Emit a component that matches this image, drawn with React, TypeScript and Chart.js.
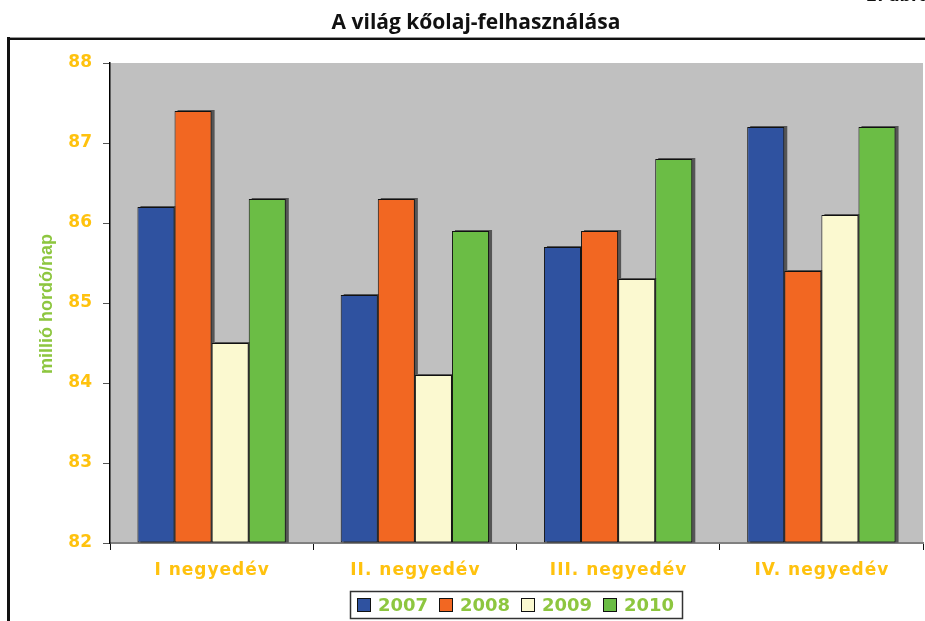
import React, { useEffect, useRef } from 'react';
import { Chart, registerables } from 'chart.js';

Chart.register(...registerables);

const chartTitle = 'A világ kőolaj-felhasználása';
const figureNote = '2. ábra';
const categories = ['I negyedév', 'II. negyedév', 'III. negyedév', 'IV. negyedév'];
const years = ['2007', '2008', '2009', '2010'];
const s2007 = [86.2, 85.1, 85.7, 87.2];
const s2008 = [87.4, 86.3, 85.9, 85.4];
const s2009 = [84.5, 84.1, 85.3, 86.1];
const s2010 = [86.3, 85.9, 86.8, 87.2];
const yMin = 82;
const yMax = 88;
const yStep = 1;
const yTitle = 'millió hordó/nap';
const seriesColors = ['#2F52A0', '#F26722', '#FBF9D0', '#6BBD45'];

const W = 925;
const H = 621;
const YELLOW = '#FFC20E';
const GREEN = '#8DC63F';

const decor = {
  id: 'decor',
  beforeDraw(chart: any) {
    const { ctx, chartArea: a } = chart;
    ctx.save();
    ctx.fillStyle = '#ffffff';
    ctx.fillRect(0, 0, W, H);
    // frame
    ctx.fillStyle = '#999';
    ctx.fillRect(7, 37, 918, 1);
    ctx.fillStyle = '#111';
    ctx.fillRect(7, 38, 918, 2);
    ctx.fillRect(7, 37, 3, H - 37);
    // note at top right (cut off)
    ctx.font = 'bold 16px "DejaVu Sans"';
    ctx.textAlign = 'left';
    ctx.textBaseline = 'alphabetic';
    ctx.fillText(figureNote, 866, 1);
    // title
    ctx.font = 'bold 21px "Open Sans"';
    ctx.textAlign = 'center';
    ctx.fillText(chartTitle, 476, 29);
    // plot background
    ctx.fillStyle = '#C0C0C0';
    ctx.fillRect(a.left, a.top, a.width, a.height);
    ctx.restore();
  },
  beforeDatasetsDraw(chart: any) {
    const { ctx, chartArea: a } = chart;
    ctx.save();
    ctx.beginPath();
    ctx.rect(a.left, a.top - 3, a.width, a.height + 3);
    ctx.clip();
    ctx.fillStyle = 'rgba(50,50,50,0.75)';
    chart.data.datasets.forEach((_: any, di: number) => {
      chart.getDatasetMeta(di).data.forEach((el: any) => {
        const left = el.x - el.width / 2;
        ctx.fillRect(left + 3, el.y - 1, el.width, el.base - el.y + 1);
      });
    });
    ctx.restore();
  },
  afterDraw(chart: any) {
    const { ctx } = chart;
    const xs = chart.scales.x;
    ctx.save();
    // x labels
    ctx.fillStyle = YELLOW;
    ctx.font = 'bold 17px "DejaVu Sans"';
    (ctx as any).letterSpacing = '1px';
    ctx.textAlign = 'center';
    ctx.textBaseline = 'middle';
    categories.forEach((c, i) => {
      ctx.fillText(c, xs.getPixelForTick(i) + 0.5, 571);
    });
    (ctx as any).letterSpacing = '0px';
    // y title
    ctx.save();
    ctx.translate(47, 304);
    ctx.rotate(-Math.PI / 2);
    ctx.fillStyle = GREEN;
    ctx.font = 'bold 18px "Liberation Sans"';
    ctx.textAlign = 'center';
    ctx.textBaseline = 'middle';
    ctx.fillText(yTitle, 0, 0);
    ctx.restore();
    // legend
    ctx.strokeStyle = '#333';
    ctx.lineWidth = 1.5;
    ctx.strokeRect(350.5, 591.5, 332, 27);
    ctx.font = 'bold 18px "DejaVu Sans"';
    ctx.textAlign = 'left';
    ctx.textBaseline = 'middle';
    years.forEach((y, i) => {
      const bx = 357 + i * 82;
      ctx.fillStyle = seriesColors[i];
      ctx.fillRect(bx, 598, 13, 13);
      ctx.strokeStyle = '#111';
      ctx.lineWidth = 1;
      ctx.strokeRect(bx + 0.5, 598.5, 13, 13);
      ctx.fillStyle = GREEN;
      ctx.fillText(y, bx + 21, 606);
    });
    ctx.restore();
  },
};

export default function App() {
  const ref = useRef<HTMLCanvasElement | null>(null);
  useEffect(() => {
    if (!ref.current) return;
    const series = [s2007, s2008, s2009, s2010];
    const chart = new Chart(ref.current, {
      type: 'bar',
      data: {
        labels: categories,
        datasets: years.map((y, i) => ({
          label: y,
          data: series[i],
          backgroundColor: seriesColors[i],
          borderColor: '#111',
          borderWidth: 1,
          borderSkipped: false,
          base: yMin,
          categoryPercentage: 0.73,
          barPercentage: 1,
        })),
      },
      options: {
        responsive: false,
        animation: false,
        devicePixelRatio: 1,
        layout: { padding: { left: 50, top: 63, right: 2, bottom: 0 } },
        plugins: {
          legend: { display: false },
          title: { display: false },
          tooltip: { enabled: false },
        },
        scales: {
          x: {
            afterFit: (s: any) => { s.height = 78; },
            grid: { display: true, drawOnChartArea: false, drawTicks: true, tickLength: 7, color: '#111', offset: true },
            border: { display: true, color: '#808080', width: 2 },
            ticks: { color: 'rgba(0,0,0,0)', font: { size: 17 } },
          },
          y: {
            min: yMin,
            max: yMax,
            afterFit: (s: any) => { s.width = 60; },
            grid: { display: true, drawOnChartArea: false, drawTicks: true, tickLength: 7, color: '#555' },
            border: { display: true, color: '#000', width: 1.5 },
            ticks: {
              stepSize: yStep,
              padding: 11,
              color: YELLOW,
              font: { family: '"DejaVu Sans"', size: 17, weight: 'bold' },
            },
          },
        },
      },
      plugins: [decor],
    } as any);
    return () => chart.destroy();
  }, []);
  return (
    <div style={{ position: 'fixed', left: 0, top: 0, width: W, height: H }}>
      <canvas ref={ref} width={W} height={H} style={{ display: 'block', width: W, height: H }} />
    </div>
  );
}
